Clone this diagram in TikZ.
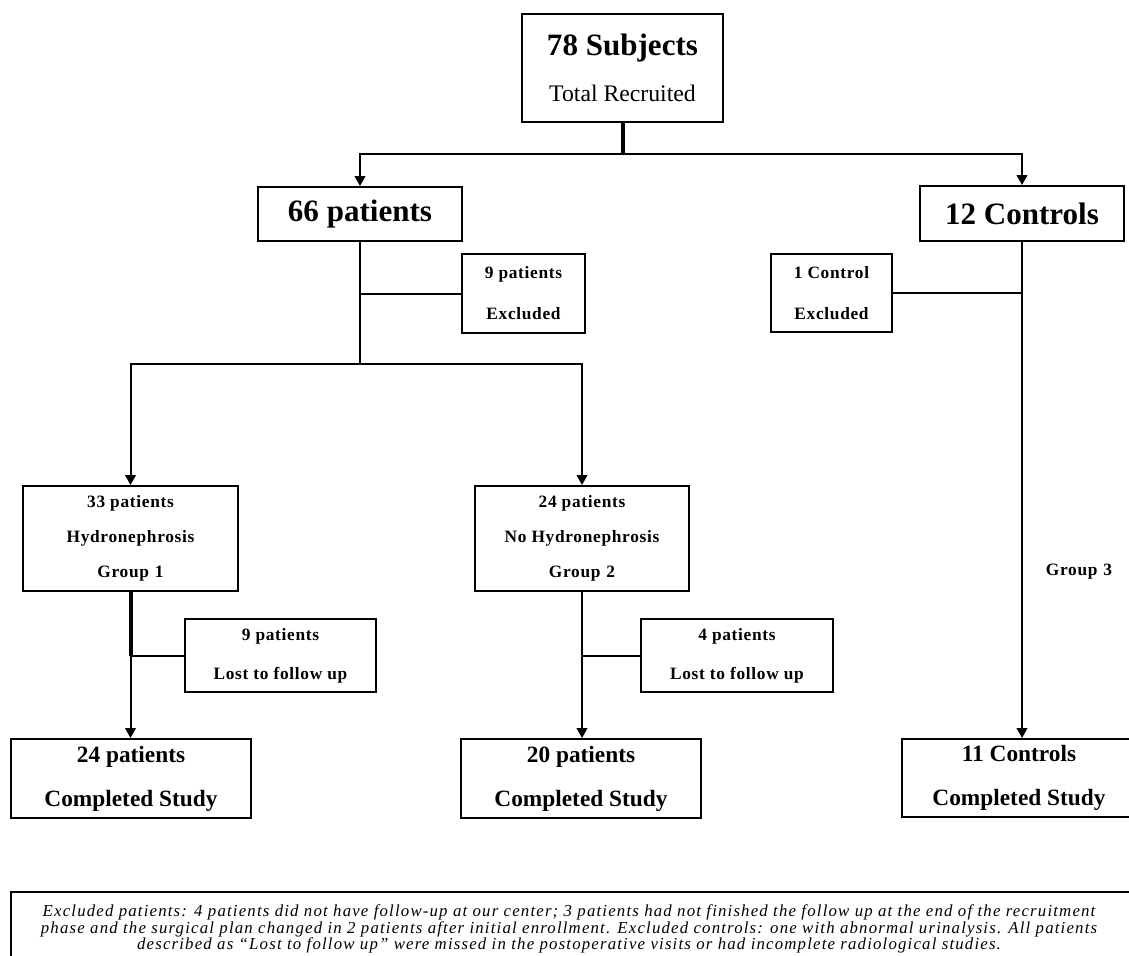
\documentclass[tikz,border=0pt]{standalone}
\usepackage{fontspec}
\setmainfont{Liberation Serif}
\newfontfamily\lsfont[LetterSpace=4]{Liberation Serif}
\newfontfamily\fnfont[LetterSpace=7]{Liberation Serif}
\usetikzlibrary{arrows.meta}
\def\px{0.75pt}
\tikzset{
  box/.style={draw, line width=1.5pt, inner sep=0pt, align=center},
  conn/.style={line width=1.5pt},
  thickconn/.style={line width=3pt},
  arr/.style={line width=1.5pt, -{Triangle[length=7.5pt,width=8pt]}},
  small/.style={font=\lsfont\bfseries\fontsize{13}{26.25}\selectfont},
  big/.style={font=\bfseries\fontsize{23.3}{28}\selectfont},
  done/.style={font=\bfseries\fontsize{17.5}{33}\selectfont},
}
\begin{document}
\begin{tikzpicture}[x=0.75pt,y=-0.75pt]
\clip (0,0) rectangle (1129,956);
\fill[white] (0,0) rectangle (1129,956);

% boxes
\node[box, minimum width=201*\px, minimum height=108*\px] (top) at (622.5,68)
  {\fontsize{23.3}{28}\selectfont\bfseries 78 Subjects\\[16.5pt]\fontsize{17.8}{21}\selectfont Total Recruited};
\node[box, big, minimum width=204*\px, minimum height=54*\px] (p66) at (360,214) {66 patients};
\node[box, big, minimum width=204*\px, minimum height=55*\px] (c12) at (1022,213.5) {12 Controls};
\node[box, small, font=\lsfont\bfseries\fontsize{13}{30.75}\selectfont, minimum width=123*\px, minimum height=79*\px] (ex9) at (523.5,293.5) {9 patients\\Excluded};
\node[box, small, font=\lsfont\bfseries\fontsize{13}{30.75}\selectfont, minimum width=121*\px, minimum height=78*\px] (ex1) at (831.5,293) {1 Control\\Excluded};
\node[box, small, minimum width=215*\px, minimum height=105*\px] (g1) at (130.5,538.5) {33 patients\\Hydronephrosis\\Group\,\,1};
\node[box, small, minimum width=214*\px, minimum height=105*\px] (g2) at (582,538.5) {24 patients\\No Hydronephrosis\\Group\,\,2};
\node[box, small, font=\lsfont\bfseries\fontsize{13}{29.25}\selectfont, minimum width=191*\px, minimum height=73*\px] (l1) at (280.5,655.5) {9 patients\\Lost to follow up};
\node[box, small, font=\lsfont\bfseries\fontsize{13}{29.25}\selectfont, minimum width=192*\px, minimum height=73*\px] (l2) at (737,655.5) {4 patients\\Lost to follow up};
\node[box, done, minimum width=240*\px, minimum height=79*\px] (d1) at (131,778.5) {24 patients\\Completed Study};
\node[box, done, minimum width=240*\px, minimum height=79*\px] (d2) at (581,778.5) {20 patients\\Completed Study};
\node[box, done, minimum width=234*\px, minimum height=78*\px] (d3) at (1019,778) {11 Controls\\Completed Study};
\node[small] (grp3) at (1079,572) {Group\,\,3};

% connectors
\coordinate (j0) at (622.5,154);
\coordinate (j1) at (360,364);
\draw[thickconn] (top.south) -- (j0);
\draw[arr] (j0) -| (p66.north);
\draw[arr] (j0) -| (c12.north);
\draw[conn] (p66.south) -- (j1);
\draw[conn] (p66.south |- ex9.west) -- (ex9.west);
\draw[arr] (j1) -| (g1.north);
\draw[arr] (j1) -| (g2.north);
\draw[arr] (c12.south) -- (c12.south |- d3.north);
\draw[conn] (c12.south |- ex1.east) -- (ex1.east);
\draw[thickconn] (g1.south) -- (g1.south |- l1.west);
\draw[arr] (g1.south) -- (g1.south |- d1.north);
\draw[conn] (g1.south |- l1.west) -- (l1.west);
\draw[arr] (g2.south) -- (g2.south |- d2.north);
\draw[conn] (g2.south |- l2.west) -- (l2.west);

% footnote
\draw[line width=2pt] (11,892) rectangle (1145,975);
\node[align=center, inner sep=0pt, font=\fnfont\itshape\fontsize{12.6}{12.4}\selectfont] (fn) at (569,929)
 {Excluded patients: 4 patients did not have follow-up at our center; 3 patients had not finished the follow up at the end of the recruitment\\
  phase and the surgical plan changed in 2 patients after initial enrollment. Excluded controls: one with abnormal urinalysis. All patients\\
  described as “Lost to follow up” were missed in the postoperative visits or had incomplete radiological studies.};
\end{tikzpicture}
\end{document}
